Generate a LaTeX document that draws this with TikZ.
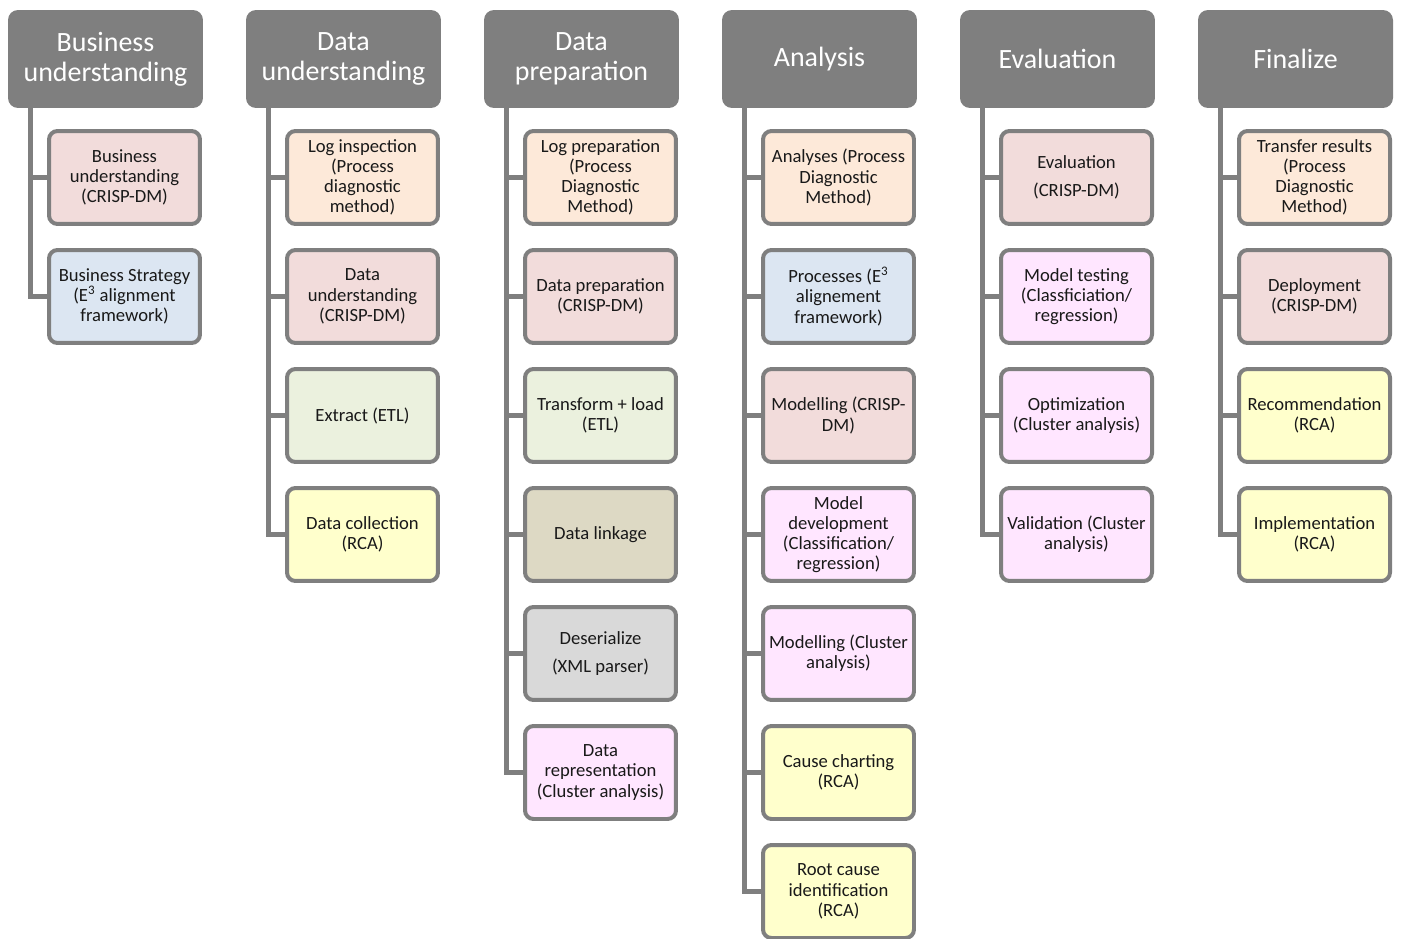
\documentclass[tikz,border=0pt]{standalone}
\usepackage{fontspec}
\setmainfont{Carlito}
\usepackage{tikz}
\usetikzlibrary{calc,positioning}

\definecolor{hdgray}{HTML}{7F7F7F}
\definecolor{bdgray}{HTML}{7F7F7F}
\definecolor{crisp}{HTML}{F2DCDB}
\definecolor{ethree}{HTML}{DCE6F2}
\definecolor{pdm}{HTML}{FDE9D9}
\definecolor{etl}{HTML}{EBF1DE}
\definecolor{rca}{HTML}{FFFFCC}
\definecolor{link}{HTML}{DDD9C4}
\definecolor{xml}{HTML}{D9D9D9}
\definecolor{clus}{HTML}{FFE6FF}

\newcommand{\hdfont}{\fontsize{15.9}{17}\selectfont}
\newcommand{\taskfont}{\fontsize{10.6}{11.5}\selectfont}

\begin{document}
\begin{tikzpicture}[x=0.02cm, y=-0.02cm,
                        phase/.style ={rectangle,fill=hdgray, text=white, rounded corners=0.2cm, minimum width=3.9cm, minimum height=1.96cm, align=center, font=\hdfont},
                        task/.style  ={rectangle,draw=bdgray, text=black!90, line width=0.08cm, rounded corners=0.17cm, minimum width=3.02cm, minimum height=1.86cm, align=center, font=\taskfont},
                        branch/.style={-        ,draw=bdgray, line width=0.1cm}]

      \useasboundingbox (0,0) rectangle (1402,939);
      \coordinate (off) at(19, 118.5);
      \coordinate (dn)  at(0, 119);
      \coordinate (col) at(238, 0);

      \node[phase] at(105.5, 59)         (bu)  {Business\\understanding};
      \node[phase] at($(bu) +(col)$)     (du)  {Data\\understanding};
      \node[phase] at($(du) +(col)$)     (dp)  {Data\\preparation};
      \node[phase] at($(dp) +(col)$)     (an)  {Analysis};
      \node[phase] at($(an) +(col)$)     (ev)  {Evaluation};
      \node[phase] at($(ev) +(col)$)     (fi)  {Finalize};

      \node[task, fill=crisp]  at($(bu)  +(off)$) (bu1) {Business\\understanding\\(CRISP-DM)};
      \node[task, fill=ethree] at($(bu1) +(dn)$)  (bu2) {Business Strategy\\(E\textsuperscript{3} alignment\\framework)};

      \node[task, fill=pdm]    at($(du)  +(off)$) (du1) {Log inspection\\(Process\\diagnostic\\method)};
      \node[task, fill=crisp]  at($(du1) +(dn)$)  (du2) {Data\\understanding\\(CRISP-DM)};
      \node[task, fill=etl]    at($(du2) +(dn)$)  (du3) {Extract (ETL)};
      \node[task, fill=rca]    at($(du3) +(dn)$)  (du4) {Data collection\\(RCA)};

      \node[task, fill=pdm]    at($(dp)  +(off)$) (dp1) {Log preparation\\(Process\\Diagnostic\\Method)};
      \node[task, fill=crisp]  at($(dp1) +(dn)$)  (dp2) {Data preparation\\(CRISP-DM)};
      \node[task, fill=etl]    at($(dp2) +(dn)$)  (dp3) {Transform + load\\(ETL)};
      \node[task, fill=link]   at($(dp3) +(dn)$)  (dp4) {Data linkage};
      \node[task, fill=xml]    at($(dp4) +(dn)$)  (dp5) {Deserialize\\[4.5pt](XML parser)};
      \node[task, fill=clus]   at($(dp5) +(dn)$)  (dp6) {Data\\representation\\(Cluster analysis)};

      \node[task, fill=pdm]    at($(an)  +(off)$) (an1) {Analyses (Process\\Diagnostic\\Method)};
      \node[task, fill=ethree] at($(an1) +(dn)$)  (an2) {Processes (E\textsuperscript{3}\\alignement\\framework)};
      \node[task, fill=crisp]  at($(an2) +(dn)$)  (an3) {Modelling (CRISP-\\DM)};
      \node[task, fill=clus]   at($(an3) +(dn)$)  (an4) {Model\\development\\(Classification/\\regression)};
      \node[task, fill=clus]   at($(an4) +(dn)$)  (an5) {Modelling (Cluster\\analysis)};
      \node[task, fill=rca]    at($(an5) +(dn)$)  (an6) {Cause charting\\(RCA)};
      \node[task, fill=rca]    at($(an6) +(dn)$)  (an7) {Root cause\\identification\\(RCA)};

      \node[task, fill=crisp]  at($(ev)  +(off)$) (ev1) {Evaluation\\[4.5pt](CRISP-DM)};
      \node[task, fill=clus]   at($(ev1) +(dn)$)  (ev2) {Model testing\\(Classficiation/\\regression)};
      \node[task, fill=clus]   at($(ev2) +(dn)$)  (ev3) {Optimization\\(Cluster analysis)};
      \node[task, fill=clus]   at($(ev3) +(dn)$)  (ev4) {Validation (Cluster\\analysis)};

      \node[task, fill=pdm]    at($(fi)  +(off)$) (fi1) {Transfer results\\(Process\\Diagnostic\\Method)};
      \node[task, fill=crisp]  at($(fi1) +(dn)$)  (fi2) {Deployment\\(CRISP-DM)};
      \node[task, fill=rca]    at($(fi2) +(dn)$)  (fi3) {Recommendation\\(RCA)};
      \node[task, fill=rca]    at($(fi3) +(dn)$)  (fi4) {Implementation\\(RCA)};

      \path[branch] ([xshift=0.46cm]bu.south west) |- (bu1.west);
      \path[branch] ([xshift=0.46cm]bu.south west) |- (bu2.west);
      \path[branch] ([xshift=0.46cm]du.south west) |- (du1.west);
      \path[branch] ([xshift=0.46cm]du.south west) |- (du2.west);
      \path[branch] ([xshift=0.46cm]du.south west) |- (du3.west);
      \path[branch] ([xshift=0.46cm]du.south west) |- (du4.west);
      \path[branch] ([xshift=0.46cm]dp.south west) |- (dp1.west);
      \path[branch] ([xshift=0.46cm]dp.south west) |- (dp2.west);
      \path[branch] ([xshift=0.46cm]dp.south west) |- (dp3.west);
      \path[branch] ([xshift=0.46cm]dp.south west) |- (dp4.west);
      \path[branch] ([xshift=0.46cm]dp.south west) |- (dp5.west);
      \path[branch] ([xshift=0.46cm]dp.south west) |- (dp6.west);
      \path[branch] ([xshift=0.46cm]an.south west) |- (an1.west);
      \path[branch] ([xshift=0.46cm]an.south west) |- (an2.west);
      \path[branch] ([xshift=0.46cm]an.south west) |- (an3.west);
      \path[branch] ([xshift=0.46cm]an.south west) |- (an4.west);
      \path[branch] ([xshift=0.46cm]an.south west) |- (an5.west);
      \path[branch] ([xshift=0.46cm]an.south west) |- (an6.west);
      \path[branch] ([xshift=0.46cm]an.south west) |- (an7.west);
      \path[branch] ([xshift=0.46cm]ev.south west) |- (ev1.west);
      \path[branch] ([xshift=0.46cm]ev.south west) |- (ev2.west);
      \path[branch] ([xshift=0.46cm]ev.south west) |- (ev3.west);
      \path[branch] ([xshift=0.46cm]ev.south west) |- (ev4.west);
      \path[branch] ([xshift=0.46cm]fi.south west) |- (fi1.west);
      \path[branch] ([xshift=0.46cm]fi.south west) |- (fi2.west);
      \path[branch] ([xshift=0.46cm]fi.south west) |- (fi3.west);
      \path[branch] ([xshift=0.46cm]fi.south west) |- (fi4.west);
    \end{tikzpicture}
\end{document}
